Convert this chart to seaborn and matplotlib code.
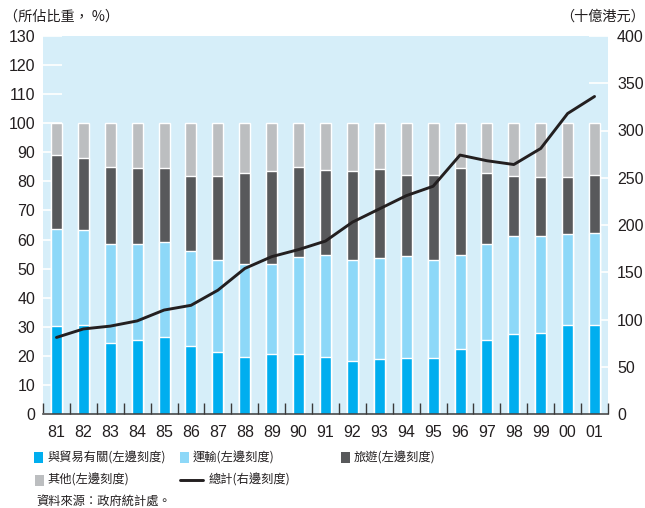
import numpy as np
import pandas as pd
import matplotlib
matplotlib.use("Agg")
import matplotlib.pyplot as plt
from matplotlib.patches import Rectangle
from matplotlib.lines import Line2D
import seaborn as sns

# Hong Kong exports of services: share by component (%) and total (HK$ billion)
years = ["81", "82", "83", "84", "85", "86", "87", "88", "89", "90", "91",
         "92", "93", "94", "95", "96", "97", "98", "99", "00", "01"]
trade = [30.3, 30.6, 24.4, 25.4, 26.5, 23.4, 21.3, 19.6, 20.6, 20.6, 19.6,
         18.2, 18.9, 19.3, 19.3, 22.4, 25.4, 27.5, 27.9, 30.6, 30.6]
transport = [33.3, 32.7, 34.1, 33.1, 32.6, 32.7, 31.7, 32.0, 31.0, 33.4, 35.1,
             34.8, 34.7, 35.0, 33.7, 32.3, 33.1, 33.7, 33.3, 31.3, 31.6]
tourism = [25.5, 24.7, 26.4, 26.1, 25.5, 25.7, 28.8, 31.3, 32.0, 30.9, 29.2,
           30.6, 30.6, 27.9, 29.2, 29.9, 24.4, 20.6, 20.3, 19.6, 20.0]
other = [10.9, 12.0, 15.1, 15.4, 15.4, 18.2, 18.2, 17.1, 16.4, 15.1, 16.1,
         16.4, 15.8, 17.8, 17.8, 15.4, 17.1, 18.2, 18.5, 18.5, 17.8]
total = [81, 90, 93, 98.5, 110, 115, 131, 154, 166.5, 174, 183,
         203, 217, 231, 241, 274, 268, 264, 281, 318, 336]

left_ticks = list(range(0, 131, 10))
right_ticks = list(range(0, 401, 50))

labels = {
    "trade": "與貿易有關(左邊刻度)",
    "transport": "運輸(左邊刻度)",
    "tourism": "旅遊(左邊刻度)",
    "other": "其他(左邊刻度)",
    "total": "總計(右邊刻度)",
}

colors = {
    "trade": "#00AEEF",
    "transport": "#8DD8F8",
    "tourism": "#58595B",
    "other": "#BCBEC0",
    "total": "#231F20",
}
BG = "#D6EEF9"
INK = "#231F20"

sns.set_theme(style="white")
CJK = ["Noto Sans CJK TC", "DejaVu Sans"]
NUM = ["Liberation Sans", "DejaVu Sans"]
plt.rcParams["font.family"] = NUM

df = pd.DataFrame({"year": years, "trade": trade, "transport": transport,
                   "tourism": tourism, "other": other})
parts = ["trade", "transport", "tourism", "other"]
cum = df[parts].cumsum(axis=1)

fig = plt.figure(figsize=(6.45, 5.08), dpi=100)
rect = [43 / 645, 1 - 414 / 508, (608 - 43) / 645, (414 - 36) / 508]

# back axes: background colour and right-hand scale
ax_r = fig.add_axes(rect)
ax_r.set_facecolor(BG)
# front axes: stacked share bars on the left-hand scale
ax = fig.add_axes(rect, sharex=ax_r)
ax.patch.set_visible(False)

for p in parts[::-1]:
    sns.barplot(x=df["year"], y=cum[p], color=colors[p], width=0.41,
                saturation=1, errorbar=None, ax=ax, zorder=2)

# top axes: total line on the right-hand scale
ax_t = fig.add_axes(rect, sharex=ax_r)
ax_t.patch.set_visible(False)
sns.lineplot(x=np.arange(len(years)), y=total, color=colors["total"],
             linewidth=2.1, ax=ax_t)

for a in (ax, ax_r, ax_t):
    a.set_xlim(-0.5, len(years) - 0.5)
    for s in a.spines.values():
        s.set_visible(False)
    a.set_xlabel("")
    a.set_ylabel("")

ax.set_ylim(0, 130)
ax_r.set_ylim(0, 400)
ax_t.set_ylim(0, 400)
ax_t.set_yticks([])
ax_t.tick_params(axis="x", which="both", length=0, labelbottom=False)

ax.set_axisbelow(True)
ax.set_yticks(left_ticks)
ax.set_yticklabels([str(v) for v in left_ticks])
ax.tick_params(axis="y", direction="in", length=13.5, width=1.2, color="white",
               pad=5.5, labelsize=11.5, labelcolor=INK, left=True)

ax_r.yaxis.tick_right()
ax_r.set_yticks(right_ticks)
ax_r.set_yticklabels([str(v) for v in right_ticks])
ax_r.tick_params(axis="y", direction="in", length=13.5, width=1.2, color="white",
                 pad=6.5, labelsize=11.5, labelcolor=INK, right=True, left=False)
ax_r.tick_params(axis="x", which="both", length=0, labelbottom=False)

ax.spines["bottom"].set_visible(True)
ax.spines["bottom"].set_color("#3A3A3A")
ax.spines["bottom"].set_linewidth(1.1)
ax.spines["bottom"].set_zorder(5)
ax.set_xticks(np.arange(len(years)))
ax.set_xticklabels(years)
ax.set_xticks(np.arange(-0.5, len(years)), minor=True)
ax.tick_params(axis="x", which="major", length=0, pad=8, labelsize=11.5,
               labelcolor=INK)
ax.tick_params(axis="x", which="minor", direction="in", length=8, width=1.0,
               color="#3A3A3A", bottom=True)

# unit captions
fig.text(4 / 645, 1 - 17 / 508, "（所佔比重， %）", family=CJK, fontsize=10.2,
         color=INK, va="center", ha="left")
fig.text(645 / 645, 1 - 17 / 508, "（十億港元）", family=CJK, fontsize=10.2,
         color=INK, va="center", ha="right")

# legend
def box(x, y, key):
    fig.add_artist(Rectangle((x / 645, 1 - (y + 5.5) / 508), 9 / 645, 11 / 508,
                             transform=fig.transFigure, color=colors[key],
                             linewidth=0))

def label(x, y, key):
    fig.text(x / 645, 1 - y / 508, labels[key], family=CJK, fontsize=8.8,
             color=INK, va="center", ha="left")

box(34, 457.5, "trade"); label(47, 457.5, "trade")
box(180, 457.5, "transport"); label(193, 457.5, "transport")
box(341, 457.5, "tourism"); label(354, 457.5, "tourism")
box(35, 480, "other"); label(47, 480, "other")
fig.add_artist(Line2D([180 / 645, 203 / 645], [1 - 480 / 508, 1 - 480 / 508],
                      transform=fig.transFigure, color=colors["total"],
                      linewidth=2.1))
label(209, 480, "total")

fig.text(36 / 645, 1 - 502 / 508, "資料來源：政府統計處。", family=CJK,
         fontsize=8.8, color=INK, va="center", ha="left")

fig.savefig("out.png", dpi=100)
